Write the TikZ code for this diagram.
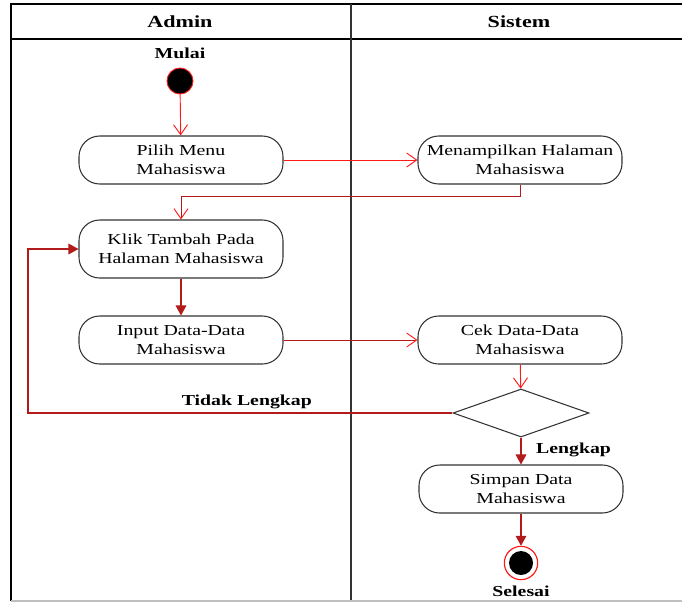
\documentclass[tikz,border=0pt]{standalone}
\usepackage{fontspec}
\setmainfont[FakeStretch=1.3]{Liberation Serif}
\usepackage{tikz}
\usetikzlibrary{arrows.meta,positioning,shapes.geometric}
\definecolor{umlred}{HTML}{FF1A1A}
\definecolor{umldark}{HTML}{B31B1B}
\definecolor{umlline}{HTML}{333333}
\tikzset{
  actbox/.style={
    draw=umlline, line width=0.9pt, rounded corners=0.62cm,
    fill=white, align=center, font=\fontsize{13}{16}\selectfont,
    minimum width=6.12cm, minimum height=1.44cm, inner sep=2pt},
  decbox/.style={
    diamond, draw=umlline, line width=0.9pt, inner sep=0pt,
    minimum width=4.08cm, minimum height=1.44cm},
  startdot/.style={
    circle, fill=black, draw=umlred, line width=0.8pt, minimum size=0.78cm, inner sep=0pt},
  enddot/.style={
    circle, fill=white, draw=umlred, line width=1pt, minimum size=1.0cm, inner sep=0pt,
    path picture={\fill[black] (path picture bounding box.center) circle (0.36cm);}},
  openarrow/.style={
    -{Straight Barb[length=3mm,width=4.2mm,color=umlred]}, line width=0.8pt, color=umlred},
  openarrow_dk/.style={
    -{Straight Barb[length=3mm,width=4.2mm,color=umlred]}, line width=0.8pt, color=umldark},
  fillarrow/.style={
    -{Triangle[length=3mm,width=3.2mm]}, line width=1pt, color=umldark},
  lanehead/.style={font=\fontsize{14.5}{17}\selectfont\bfseries},
  flowlabel/.style={font=\fontsize{13}{16}\selectfont\bfseries},
}

\begin{document}
\begin{tikzpicture}[x=0.03cm, y=-0.03cm]
  \useasboundingbox[fill=white] (0,0) rectangle (682,602);

  % swimlanes
  \draw[line width=1.5pt] (682,4) -- (11,4) -- (11,601);
  \draw[line width=1.5pt] (11,39) -- (682,39);
  \draw[line width=1.1pt, umlline] (351,4) -- (351,601);
  \draw[line width=1.2pt, black!25] (11,601) -- (682,601);
  \node[lanehead] (hadmin) at (180,22) {Admin};
  \node[lanehead] (hsistem) at (519,22) {Sistem};

  % start
  \node[flowlabel] (mulai) at (180,53) {Mulai};
  \node[startdot] (start) at (180,81) {};

  % actions
  \node[actbox]                       (pilih) at (181,160) {Pilih Menu\\Mahasiswa};
  \node[actbox]                       (tampil) at (520,160) {Menampilkan Halaman\\Mahasiswa};
  \node[actbox, minimum height=1.74cm] (klik) at (181,249) {Klik Tambah Pada\\Halaman Mahasiswa};
  \node[actbox]                       (input) at (181,340) {Input Data-Data\\Mahasiswa};
  \node[actbox]                       (cek) at (520,340) {Cek Data-Data\\Mahasiswa};
  \node[decbox]                       (cabang) at (521,413) {};
  \node[actbox]                       (simpan) at (521,489) {Simpan Data\\Mahasiswa};

  % end
  \node[enddot] (selesai) at (521,563) {};
  \node[flowlabel] (lselesai) at (521,591) {Selesai};

  % flows
  \draw[openarrow] (start) -- (pilih);
  \draw[openarrow] (pilih) -- (tampil);
  \draw[openarrow_dk] (tampil.south) |- (181,196) -- (klik.north);
  \draw[fillarrow] (klik) -- (input);
  \draw[openarrow_dk] (input) -- (cek);
  \draw[openarrow] (cek) -- (cabang);
  \draw[fillarrow] (cabang.west) -| (28,249) -- (klik.west);
  \draw[fillarrow] (cabang) -- (simpan);
  \draw[fillarrow] (simpan) -- (selesai);

  \node[flowlabel, anchor=east] (ltidak) at (316,402) {Tidak Lengkap};
  \node[flowlabel, anchor=west] (llengkap) at (532,450) {Lengkap};
\end{tikzpicture}
\end{document}
